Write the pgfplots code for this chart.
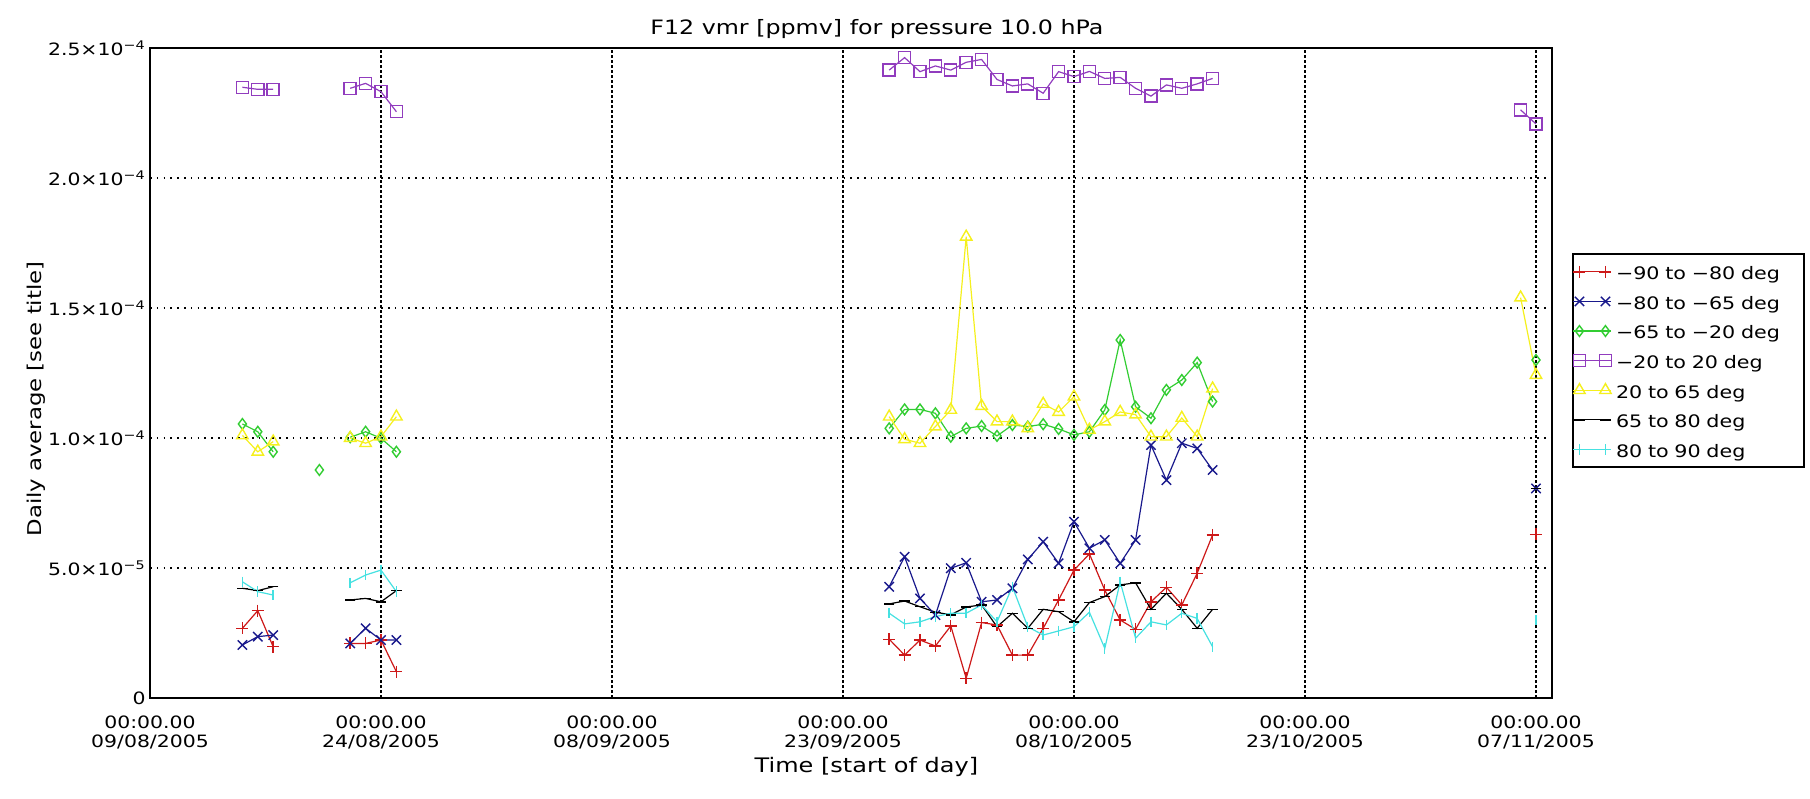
\documentclass[border=0pt]{standalone}
\usepackage{pgfplots}
\pgfplotsset{compat=1.18}
\usepackage{pgfplotstable}
\usepackage{fontspec}
\setmainfont[FakeStretch=1.2]{DejaVu Sans}
\definecolor{cred}{RGB}{205,25,25}
\definecolor{cblue}{RGB}{25,25,140}
\definecolor{cgreen}{RGB}{50,205,50}
\definecolor{cpurple}{RGB}{145,60,190}
\definecolor{cyellow}{RGB}{245,240,30}
\definecolor{ccyan}{RGB}{70,225,225}

\pgfplotstableread{
d v
6 0.268
7 0.336
8 0.197
9 nan
13 0.210
14 0.210
15 0.223
16 0.101
17 nan
48 0.226
49 0.165
50 0.223
51 0.200
52 0.277
53 0.076
54 0.290
55 0.281
56 0.165
57 0.165
58 0.268
59 0.377
60 0.492
61 0.554
62 0.415
63 0.300
64 0.264
65 0.370
66 0.426
67 0.358
68 0.480
69 0.627
70 nan
90 0.630
}\tred

\pgfplotstableread{
d v
6 0.204
7 0.236
8 0.242
9 nan
13 0.210
14 0.268
15 0.223
16 0.223
17 nan
48 0.428
49 0.543
50 0.383
51 0.319
52 0.499
53 0.520
54 0.370
55 0.377
56 0.422
57 0.533
58 0.601
59 0.518
60 0.678
61 0.576
62 0.608
63 0.518
64 0.608
65 0.973
66 0.838
67 0.980
68 0.960
69 0.877
70 nan
90 0.806
}\tblue

\pgfplotstableread{
d v
6 1.054
7 1.024
8 0.947
9 nan
11 0.877
12 nan
13 1.003
14 1.024
15 0.999
16 0.947
17 nan
48 1.037
49 1.110
50 1.110
51 1.095
52 1.005
53 1.037
54 1.046
55 1.008
56 1.050
57 1.044
58 1.053
59 1.035
60 1.012
61 1.024
62 1.108
63 1.377
64 1.120
65 1.076
66 1.185
67 1.223
68 1.290
69 1.140
70 nan
90 1.300
}\tgreen

\pgfplotstableread{
d v
6 2.349
7 2.341
8 2.341
9 nan
13 2.345
14 2.364
15 2.332
16 2.255
17 nan
48 2.415
49 2.463
50 2.409
51 2.431
52 2.415
53 2.445
54 2.456
55 2.379
56 2.354
57 2.362
58 2.326
59 2.409
60 2.390
61 2.410
62 2.383
63 2.387
64 2.345
65 2.315
66 2.358
67 2.345
68 2.362
69 2.383
70 nan
89 2.262
90 2.208
}\tpurple

\pgfplotstableread{
d v
6 1.010
7 0.947
8 0.986
9 nan
13 1.000
14 0.980
15 1.005
16 1.082
17 nan
48 1.082
49 0.995
50 0.980
51 1.044
52 1.108
53 1.774
54 1.123
55 1.063
56 1.063
57 1.037
58 1.131
59 1.100
60 1.159
61 1.031
62 1.063
63 1.100
64 1.090
65 1.005
66 1.005
67 1.077
68 1.005
69 1.190
70 nan
89 1.540
90 1.242
}\tyellow

\pgfplotstableread{
d v
6 0.422
7 0.413
8 0.428
9 nan
13 0.377
14 0.383
15 0.370
16 0.413
17 nan
48 0.362
49 0.373
50 0.351
51 0.330
52 0.320
53 0.350
54 0.358
55 0.274
56 0.326
57 0.268
58 0.341
59 0.332
60 0.293
61 0.367
62 0.390
63 0.435
64 0.443
65 0.341
66 0.403
67 0.341
68 0.268
69 0.341
70 nan
90 0.806
}\tblack

\pgfplotstableread{
d v
6 0.447
7 0.409
8 0.396
9 nan
13 0.443
14 0.473
15 0.492
16 0.409
17 nan
48 0.326
49 0.285
50 0.293
51 0.313
52 0.326
53 0.326
54 0.358
55 0.293
56 0.428
57 0.274
58 0.242
59 0.258
60 0.274
61 0.330
62 0.191
63 0.447
64 0.230
65 0.293
66 0.281
67 0.326
68 0.306
69 0.197
70 nan
90 0.300
}\tcyan

\begin{document}
\begin{tikzpicture}
\useasboundingbox (0,0) rectangle (905pt,399pt);
\begin{axis}[
  at={(75pt,50pt)}, anchor=south west,
  scale only axis, width=701pt, height=325pt,
  xmin=0, xmax=91.04, ymin=0, ymax=2.5,
  unbounded coords=jump,
  axis line style={line width=1pt},
  major tick length=0pt,
  xtick={0,15,30,45,60,75,90},
  xticklabels={{00:00.00\\09/08/2005},{00:00.00\\24/08/2005},{00:00.00\\08/09/2005},{00:00.00\\23/09/2005},{00:00.00\\08/10/2005},{00:00.00\\23/10/2005},{00:00.00\\07/11/2005}},
  ytick={0,0.5,1,1.5,2,2.5},
  yticklabels={0,{5.0×10\textsuperscript{−5}},{1.0×10\textsuperscript{−4}},{1.5×10\textsuperscript{−4}},{2.0×10\textsuperscript{−4}},{2.5×10\textsuperscript{−4}}},
  xticklabel style={align=center, anchor=north, inner sep=0pt, yshift=-8.5pt, font=\fontsize{8.5}{9.5}\selectfont},
  yticklabel style={anchor=east, inner sep=0pt, xshift=-2pt, font=\fontsize{8.5}{10}\selectfont},
  grid=major,
  x grid style={black, line width=0.7pt, dash pattern=on 1.3pt off 1.2pt},
  y grid style={black, line width=0.7pt, dash pattern=on 0.8pt off 2.6pt},
  title={F12 vmr [ppmv] for pressure 10.0 hPa},
  every axis title/.style={at={(axis description cs:0.5185,1)}, anchor=base, yshift=6.5pt, font=\fontsize{9.9}{12}\selectfont},
  xlabel={Time [start of day]},
  every axis x label/.style={at={(axis description cs:0.511,0)}, anchor=base, yshift=-37pt, font=\fontsize{10}{12}\selectfont},
  ylabel={Daily average [see title]},
  every axis y label/.style={at={([xshift=-57pt]axis description cs:0,0.46)}, rotate=90, anchor=center, font=\fontsize{9.5}{12}\selectfont},
  legend cell align=left,
  legend image code/.code={
    \draw[#1] (0pt,0pt) -- (19pt,0pt);
    \draw[#1, only marks] plot coordinates {(3pt,0pt) (16pt,0pt)};
  },
  legend style={at={(axis description cs:1.0143,0.3538)}, anchor=south west,
    draw=black, line width=0.8pt, inner xsep=0pt, inner ysep=1.5pt, row sep=0pt,
    font=\fontsize{8.6}{10}\selectfont,
    /tikz/every even column/.append style={text width=92pt, inner xsep=1pt, inner ysep=0pt, text height=9.3pt, text depth=5.2pt}},
]
\addplot[cred, line width=0.6pt, mark=+, mark size=3pt, mark options={line width=0.7pt}] table[x=d,y=v] {\tred};
\addlegendentry{−90 to −80 deg}
\addplot[cblue, line width=0.6pt, mark=x, mark size=3.3pt, mark options={line width=0.7pt}] table[x=d,y=v] {\tblue};
\addlegendentry{−80 to −65 deg}
\addplot[cgreen, line width=0.6pt, mark=diamond, mark size=2.7pt, mark options={line width=0.7pt}] table[x=d,y=v] {\tgreen};
\addlegendentry{−65 to −20 deg}
\addplot[cpurple, line width=0.6pt, mark=square, mark size=3pt, mark options={line width=0.7pt}] table[x=d,y=v] {\tpurple};
\addlegendentry{−20 to 20 deg}
\addplot[cyellow, line width=0.6pt, mark=triangle, mark size=3.3pt, mark options={line width=0.7pt}] table[x=d,y=v] {\tyellow};
\addlegendentry{20 to 65 deg}
\addplot[black, line width=0.6pt, mark=-, mark size=2.6pt, mark options={line width=0.7pt}] table[x=d,y=v] {\tblack};
\addlegendentry{65 to 80 deg}
\addplot[ccyan, line width=0.6pt, mark=|, mark size=2.6pt, mark options={line width=0.7pt}] table[x=d,y=v] {\tcyan};
\addlegendentry{80 to 90 deg}
\end{axis}
\end{tikzpicture}
\end{document}
